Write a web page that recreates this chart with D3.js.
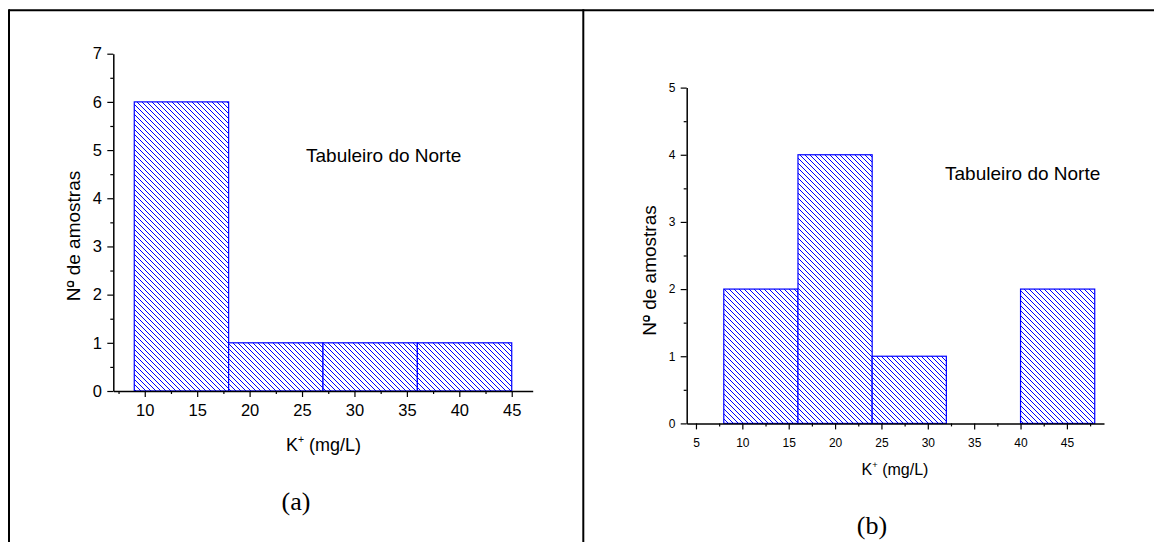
<!DOCTYPE html>
<html>
<head>
<meta charset="utf-8">
<script src="https://cdn.jsdelivr.net/npm/d3@7"></script>
<style>
  html, body { margin: 0; padding: 0; background: #fff; }
  svg { display: block; }
</style>
</head>
<body>
<svg id="chart" width="1154" height="542"></svg>
<script>
// ---------- data ----------
const binEdgesA = [9, 18, 27, 36, 45];
const countsA   = [6, 1, 1, 1];
const xTicksA   = [10, 15, 20, 25, 30, 35, 40, 45];
const xMinorA   = [7.5, 12.5, 17.5, 22.5, 27.5, 32.5, 37.5, 42.5];
const yTicksA   = [0, 1, 2, 3, 4, 5, 6, 7];
const yMinorA   = [0.5, 1.5, 2.5, 3.5, 4.5, 5.5, 6.5];

const binEdgesB = [8, 16, 24, 32, 40, 48];
const countsB   = [2, 4, 1, 0, 2];
const xTicksB   = [5, 10, 15, 20, 25, 30, 35, 40, 45];
const xMinorB   = [7.5, 12.5, 17.5, 22.5, 27.5, 32.5, 37.5, 42.5, 47.5];
const yTicksB   = [0, 1, 2, 3, 4, 5];
const yMinorB   = [0.5, 1.5, 2.5, 3.5, 4.5];

const annotation = "Tabuleiro do Norte";
const yTitle = "Nº de amostras";
const panelLabels = ["(a)", "(b)"];

// ---------- drawing ----------
const svg = d3.select("#chart");
const BLUE = "#0000ff";
const SANS = "Arial, 'Liberation Sans', sans-serif";
const SERIF = "'Times New Roman', 'Liberation Serif', serif";
const fmt = d3.format("d");

// hatch pattern "\\\\"
const defs = svg.append("defs");
const pat = defs.append("pattern")
  .attr("id", "hatch")
  .attr("patternUnits", "userSpaceOnUse")
  .attr("width", 5).attr("height", 5);
pat.append("rect").attr("width", 5).attr("height", 5).attr("fill", "#fff");
pat.append("path")
  .attr("d", "M0,0 L5,5 M-1,4 L1,6 M4,-1 L6,1")
  .attr("stroke", BLUE).attr("stroke-width", 1).attr("fill", "none");

// frame
svg.append("line").attr("x1", 9).attr("x2", 1154).attr("y1", 10.3).attr("y2", 10.3)
  .attr("stroke", "#000").attr("stroke-width", 2);
svg.append("line").attr("x1", 9).attr("x2", 9).attr("y1", 9.3).attr("y2", 542)
  .attr("stroke", "#000").attr("stroke-width", 2);
svg.append("line").attr("x1", 583.3).attr("x2", 583.3).attr("y1", 9.3).attr("y2", 542)
  .attr("stroke", "#000").attr("stroke-width", 2);

function drawPanel(cfg) {
  const x = d3.scaleLinear().domain(cfg.xDomain).range(cfg.xRange);
  const y = d3.scaleLinear().domain(cfg.yDomain).range(cfg.yRange);
  const g = svg.append("g");

  const bins = cfg.counts.map((c, i) => ({ x0: cfg.edges[i], x1: cfg.edges[i + 1], c }));
  g.selectAll("rect.bar").data(bins.filter(d => d.c > 0)).join("rect")
    .attr("class", "bar")
    .attr("x", d => x(d.x0))
    .attr("width", d => x(d.x1) - x(d.x0))
    .attr("y", d => y(d.c))
    .attr("height", d => y(0) - y(d.c))
    .attr("fill", "url(#hatch)")
    .attr("stroke", BLUE)
    .attr("stroke-width", 1.2);

  // minor ticks
  g.append("g").attr("transform", `translate(0,${y(0)})`)
    .call(d3.axisBottom(x).tickValues(cfg.xMinor).tickSize(3).tickFormat("").tickSizeOuter(0))
    .call(s => s.select(".domain").remove())
    .selectAll("line").attr("stroke-width", 1.2);
  g.append("g").attr("transform", `translate(${x(cfg.xDomain[0])},0)`)
    .call(d3.axisLeft(y).tickValues(cfg.yMinor).tickSize(3).tickFormat("").tickSizeOuter(0))
    .call(s => s.select(".domain").remove())
    .selectAll("line").attr("stroke-width", 1.2);

  // major axes
  const xa = g.append("g").attr("transform", `translate(0,${y(0)})`)
    .call(d3.axisBottom(x).tickValues(cfg.xTicks).tickFormat(fmt).tickSize(6).tickPadding(cfg.xPad).tickSizeOuter(0));
  const ya = g.append("g").attr("transform", `translate(${x(cfg.xDomain[0])},0)`)
    .call(d3.axisLeft(y).tickValues(cfg.yTicks).tickFormat(fmt).tickSize(6).tickPadding(cfg.yPad).tickSizeOuter(0));
  [xa, ya].forEach(a => {
    a.attr("font-family", SANS).attr("font-size", cfg.tickFont);
    a.selectAll("text").attr("fill", "#000");
    a.selectAll("line").attr("stroke-width", 1.2);
    a.select(".domain").attr("stroke-width", 1.5);
  });

  // annotation
  g.append("text").attr("x", cfg.annX).attr("y", cfg.annY)
    .attr("font-family", SANS).attr("font-size", cfg.annFont)
    .attr("fill", "#000").text(annotation);

  // y title (with underlined ordinal)
  const yg = g.append("g").attr("transform", `translate(${cfg.ytX},${cfg.ytY}) rotate(-90)`);
  const yt = yg.append("text")
    .attr("text-anchor", "middle")
    .attr("font-family", SANS).attr("font-size", cfg.ytFont)
    .attr("fill", "#000").text(yTitle);
  const ext = yt.node().getExtentOfChar(1);
  yg.append("line")
    .attr("x1", ext.x + ext.width * 0.12).attr("x2", ext.x + ext.width * 0.88)
    .attr("y1", -cfg.ytFont * 0.36).attr("y2", -cfg.ytFont * 0.36)
    .attr("stroke", "#000").attr("stroke-width", 1.3);

  // x title K+ (mg/L)
  const xt = g.append("text").attr("x", cfg.xtX).attr("y", cfg.xtY)
    .attr("text-anchor", "middle")
    .attr("font-family", SANS).attr("font-size", cfg.xtFont).attr("fill", "#000");
  xt.append("tspan").text("K");
  xt.append("tspan").attr("font-size", cfg.xtFont * 0.58).attr("dy", -cfg.xtFont * 0.42).text("+");
  xt.append("tspan").attr("dy", cfg.xtFont * 0.42).text(" (mg/L)");

  // panel label
  g.append("text").attr("x", cfg.plX).attr("y", cfg.plY)
    .attr("text-anchor", "middle")
    .attr("font-family", SERIF).attr("font-size", 26)
    .attr("fill", "#000").text(cfg.panelLabel);
}

drawPanel({
  edges: binEdgesA, counts: countsA,
  xTicks: xTicksA, xMinor: xMinorA, yTicks: yTicksA, yMinor: yMinorA,
  xDomain: [7, 47], xRange: [113.3, 532.7],
  yDomain: [0, 7], yRange: [391, 53.7],
  tickFont: 16.5, xPad: 7.3, yPad: 5.3,
  annX: 306, annY: 162, annFont: 19,
  ytX: 80, ytY: 236, ytFont: 19,
  xtX: 323.5, xtY: 451, xtFont: 18,
  plX: 296, plY: 510, panelLabel: panelLabels[0]
});

drawPanel({
  edges: binEdgesB, counts: countsB,
  xTicks: xTicksB, xMinor: xMinorB, yTicks: yTicksB, yMinor: yMinorB,
  xDomain: [4, 49], xRange: [686.7, 1104],
  yDomain: [0, 5], yRange: [423.4, 87.6],
  tickFont: 12, xPad: 9, yPad: 5.2,
  annX: 945, annY: 180, annFont: 19,
  ytX: 655.5, ytY: 270.5, ytFont: 19,
  xtX: 895, xtY: 475, xtFont: 16,
  plX: 872, plY: 534, panelLabel: panelLabels[1]
});
</script>
</body>
</html>
